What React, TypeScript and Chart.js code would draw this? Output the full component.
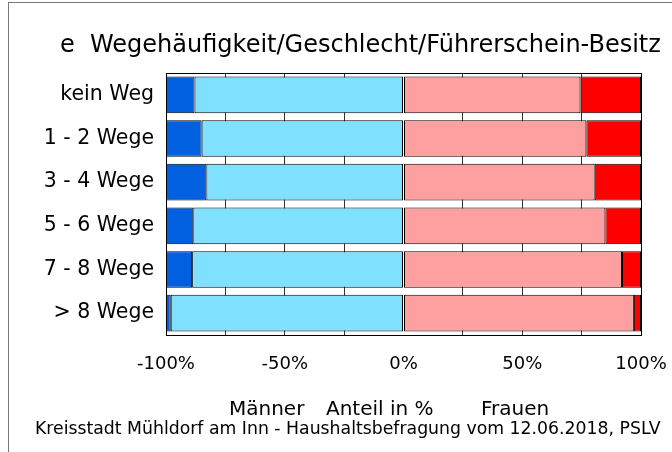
import React, { useEffect, useRef } from "react";
import { Chart, registerables } from "chart.js";

Chart.register(...registerables);

const categories = ["kein Weg", "1 - 2 Wege", "3 - 4 Wege", "5 - 6 Wege", "7 - 8 Wege", "> 8 Wege"];
const menWithLicense = [-88, -85, -83, -88.5, -89, -98];
const menWithoutLicense = [-12, -15, -17, -11.5, -11, -2];
const womenWithLicense = [74.5, 77, 80.5, 85, 92, 97];
const womenWithoutLicense = [25.5, 23, 19.5, 15, 8, 3];
const xTicks = [-100, -75, -50, -25, 0, 25, 50, 75, 100];

const FONT = "'DejaVu Sans', sans-serif";

const framePlugin = {
  id: "frame",
  afterDatasetsDraw(chart: any) {
    const { ctx, chartArea: a } = chart;
    ctx.save();
    ctx.strokeStyle = "#000";
    ctx.lineWidth = 1;
    ctx.strokeRect(Math.round(a.left) + 0.5, Math.round(a.top) + 0.5, Math.round(a.right - a.left), Math.round(a.bottom - a.top));
    ctx.restore();
  },
};

export default function App() {
  const ref = useRef<HTMLCanvasElement>(null);
  useEffect(() => {
    const chart = new Chart(ref.current!, {
      type: "bar",
      data: {
        labels: categories,
        datasets: [
          { label: "Männer mit Führerschein", data: menWithLicense, backgroundColor: "#80E0FF", borderColor: "#000", borderWidth: 1, borderSkipped: false },
          { label: "Männer ohne Führerschein", data: menWithoutLicense, backgroundColor: "#0060E0", borderColor: "#000", borderWidth: 1, borderSkipped: false },
          { label: "Frauen mit Führerschein", data: womenWithLicense, backgroundColor: "#FFA0A0", borderColor: "#000", borderWidth: 1, borderSkipped: false },
          { label: "Frauen ohne Führerschein", data: womenWithoutLicense, backgroundColor: "#FF0000", borderColor: "#000", borderWidth: 1, borderSkipped: false },
        ],
      },
      options: {
        indexAxis: "y",
        responsive: false,
        animation: false,
        layout: { padding: { left: 8, right: 31, top: 73, bottom: 0 } },
        plugins: { legend: { display: false }, tooltip: { enabled: false }, title: { display: false } },
        datasets: { bar: { barPercentage: 1, categoryPercentage: 0.84 } },
        scales: {
          x: {
            stacked: true,
            min: -100,
            max: 100,
            afterBuildTicks: (s: any) => { s.ticks = xTicks.map((v) => ({ value: v })); },
            afterFit: (s: any) => { s.height = 117; s.paddingLeft = 0; s.paddingRight = 0; },
            grid: { color: (c: any) => (c.tick && c.tick.value === 0 ? "rgba(0,0,0,0)" : "#333"), lineWidth: 1, drawTicks: false },
            border: { color: "#000" },
            ticks: {
              padding: 19,
              color: "#000",
              font: { family: FONT, size: 18 },
              autoSkip: false,
              maxRotation: 0,
              callback: (v: any) => (Number(v) % 50 === 0 ? `${v}%` : ""),
            },
          },
          y: {
            stacked: true,
            afterFit: (s: any) => { s.width = 158; s.paddingTop = 0; s.paddingBottom = 0; },
            grid: { display: false, drawTicks: false },
            border: { color: "#000" },
            ticks: { padding: 12, color: "#000", font: { family: FONT, size: 20.5 } },
          },
        },
      },
      plugins: [framePlugin],
    } as any);
    return () => chart.destroy();
  }, []);

  const txt: React.CSSProperties = { position: "absolute", fontFamily: FONT, color: "#000", whiteSpace: "nowrap", lineHeight: 1 };
  return (
    <div style={{ position: "absolute", left: 0, top: 0, width: 672, height: 452, background: "#fff", overflow: "hidden" }}>
      <div style={{ position: "absolute", left: 8, top: 2, width: 700, height: 500, borderLeft: "1px solid #777", borderTop: "1px solid #777" }} />
      <canvas ref={ref} width={672} height={452} style={{ position: "absolute", left: 0, top: 0 }} />
      <div style={{ ...txt, left: 60, top: 32, fontSize: 24 }}>e&nbsp;&nbsp;Wegehäufigkeit/Geschlecht/Führerschein-Besitz</div>
      <div style={{ ...txt, left: 229, top: 398, fontSize: 20 }}>Männer</div>
      <div style={{ ...txt, left: 326, top: 398, fontSize: 20 }}>Anteil in %</div>
      <div style={{ ...txt, left: 481, top: 398, fontSize: 20 }}>Frauen</div>
      <div style={{ ...txt, left: 35, top: 420, fontSize: 17.3 }}>Kreisstadt Mühldorf am Inn - Haushaltsbefragung vom 12.06.2018, PSLV</div>
    </div>
  );
}
